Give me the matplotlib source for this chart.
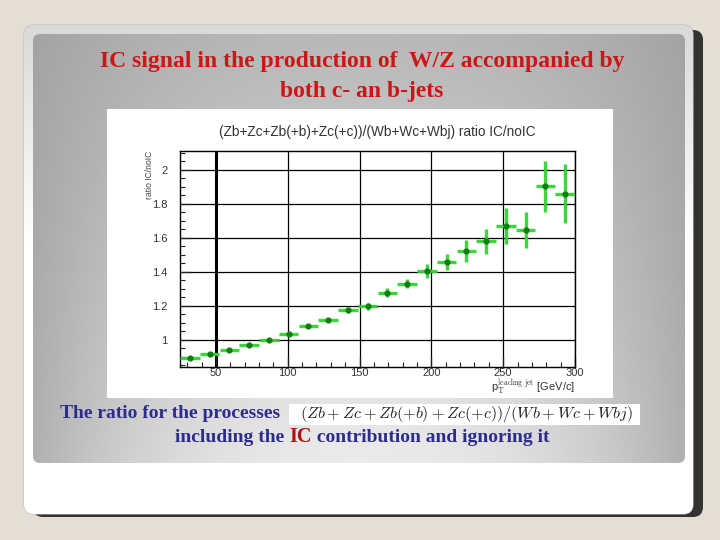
import matplotlib
matplotlib.use("Agg")
import matplotlib.pyplot as plt
import numpy as np
from matplotlib.patches import FancyBboxPatch, Rectangle
from matplotlib.ticker import MultipleLocator

plt.rcParams['mathtext.fontset'] = 'cm'

# data
pt_centers = [31.9, 45.6, 59.4, 73.1, 86.9, 100.6, 114.4, 128.1, 141.9, 155.6,
              169.4, 183.1, 196.9, 210.6, 224.4, 238.1, 251.9, 265.6, 279.4, 293.1]
bin_halfwidth = 6.875
ratio = [0.892, 0.916, 0.939, 0.971, 1.0, 1.035, 1.082, 1.115, 1.176, 1.198,
         1.276, 1.331, 1.405, 1.46, 1.522, 1.579, 1.669, 1.644, 1.902, 1.857]
ratio_err = [0.008, 0.008, 0.009, 0.009, 0.010, 0.011, 0.012, 0.012, 0.016, 0.02,
             0.026, 0.027, 0.039, 0.047, 0.064, 0.075, 0.108, 0.106, 0.149, 0.173]

x_ticks = [50, 100, 150, 200, 250, 300]
y_ticks = [1, 1.2, 1.4, 1.6, 1.8, 2]

slide_title = ["IC signal in the production of  W/Z accompanied by",
               "both c- an b-jets"]
plot_title = "(Zb+Zc+Zb(+b)+Zc(+c))/(Wb+Wc+Wbj) ratio IC/noIC"
formula = r"$(Zb + Zc + Zb(+b) + Zc(+c))/(Wb + Wc + Wbj)$"

W, H = 720, 540
fig = plt.figure(figsize=(7.2, 5.4), dpi=100)
fig.patch.set_facecolor("#e4ded4")

# background axes in pixel coords
bg = fig.add_axes([0, 0, 1, 1])
bg.set_xlim(0, W)
bg.set_ylim(H, 0)
bg.axis("off")

# shadow of the card
shadow = FancyBboxPatch((33, 30), 670, 487, boxstyle="round,pad=0,rounding_size=10",
                        fc="#333330", ec="none", zorder=1)
bg.add_patch(shadow)

# card with light gradient from top
card = FancyBboxPatch((24, 25), 669, 489, boxstyle="round,pad=0,rounding_size=10",
                      fc="white", ec="#bdbdbd", lw=0.8, zorder=2)
bg.add_patch(card)
yy = np.linspace(0, 1, 200)[:, None]
card_grad = np.clip(0.85 + 0.15 * yy / 0.45, 0, 1) * np.ones((1, 4))
im = bg.imshow(card_grad, extent=(24, 693, 514, 25), cmap="gray", vmin=0, vmax=1,
               aspect="auto", zorder=2.1, interpolation="bilinear")
im.set_clip_path(card)

# gray gradient panel
panel = FancyBboxPatch((33, 34), 652, 429, boxstyle="round,pad=0,rounding_size=7",
                       fc="none", ec="none", zorder=3)
bg.add_patch(panel)
u = np.linspace(-1, 1, 400)[None, :]
v = np.linspace(0, 1, 300)[:, None]
c = 0.72 + 0.20 * v
e = 0.64 + 0.05 * v
panel_img = c - (c - e) * np.abs(u) ** 2.2
im2 = bg.imshow(panel_img, extent=(33, 685, 463, 34), cmap="gray", vmin=0, vmax=1,
                aspect="auto", zorder=3.1, interpolation="bilinear")
im2.set_clip_path(panel)

# slide title
red = "#cc1616"
bg.text(362, 62, slide_title[0], ha="center", va="center", color=red,
        family="Liberation Serif", fontweight="bold", fontsize=17, zorder=5)
bg.text(362, 91, slide_title[1], ha="center", va="center", color=red,
        family="Liberation Serif", fontweight="bold", fontsize=17, zorder=5)

# white image area for the plot
bg.add_patch(Rectangle((107, 109), 506, 289, fc="white", ec="none", zorder=4))

# bottom text
blue = "#2c2c8c"
bg.text(60, 413, "The ratio for the processes", ha="left", va="center", color=blue,
        family="Liberation Serif", fontweight="bold", fontsize=14, zorder=5)
bg.add_patch(Rectangle((289, 404), 351, 21, fc="white", ec="none", zorder=4))
bg.text(466, 414, formula, ha="center", va="center", fontsize=11.6, color="#222222", zorder=5)
t1 = bg.text(175, 438, "including the ", ha="left", va="center", color=blue,
             family="Liberation Serif", fontweight="bold", fontsize=14, zorder=5)
t2 = bg.annotate("IC", xy=(1, 0), xycoords=t1, ha="left", va="bottom", color="#b01010",
                 family="Liberation Serif", fontweight="bold", fontsize=14.5, zorder=5)
bg.annotate(" contribution and ignoring it", xy=(1, 0), xycoords=t2, ha="left", va="bottom",
            color=blue, family="Liberation Serif", fontweight="bold", fontsize=14, zorder=5)

# the plot
ax = fig.add_axes([180 / W, 1 - 367 / H, 395 / W, 216 / H])
ax.set_zorder(6)
ax.set_facecolor("white")
ax.set_xlim(25, 300)
ax.set_ylim(0.841, 2.109)
ax.set_xticks(x_ticks)
ax.set_yticks(y_ticks)
ax.set_xticklabels([str(t) for t in x_ticks])
ax.set_yticklabels(["1", "1.2", "1.4", "1.6", "1.8", "2"])
ax.xaxis.set_minor_locator(MultipleLocator(10))
ax.yaxis.set_minor_locator(MultipleLocator(0.05))
ax.tick_params(which="both", direction="in", top=False, right=False, colors="#222222",
               labelsize=8, labelcolor="#333333")
ax.tick_params(which="major", length=7, width=0.9)
ax.tick_params(which="minor", length=3.5, width=0.8)
ax.tick_params(axis="x", pad=1)
ax.tick_params(axis="y", pad=9)
for lab in ax.get_xticklabels() + ax.get_yticklabels():
    lab.set_family("Liberation Sans")
for s in ax.spines.values():
    s.set_linewidth(1.0)
    s.set_color("black")
ax.grid(True, which="major", color="black", lw=0.9)
ax.xaxis.get_gridlines()[0].set_linewidth(2.2)

ax.errorbar(pt_centers, ratio, xerr=bin_halfwidth, yerr=ratio_err, fmt="o",
            ms=3.5, mfc="#127a12", mec="#127a12", ecolor="#2fd42f", elinewidth=2.4,
            capsize=0, zorder=3, alpha=0.95)

ax.set_title(plot_title, fontsize=9.8, color="#333333", family="Liberation Sans", pad=11)
ax.text(-0.078, 1.0, "ratio IC/noIC", transform=ax.transAxes, rotation=90, ha="center",
        va="top", fontsize=6.2, color="#444444", family="Liberation Sans")
ax.text(1.0, -0.09, r"p$_{\rm T}^{\rm leading\ jet}$ [GeV/c]", transform=ax.transAxes,
        ha="right", va="center", fontsize=8, color="#333333", family="Liberation Sans")

fig.savefig("out.png", dpi=100)
